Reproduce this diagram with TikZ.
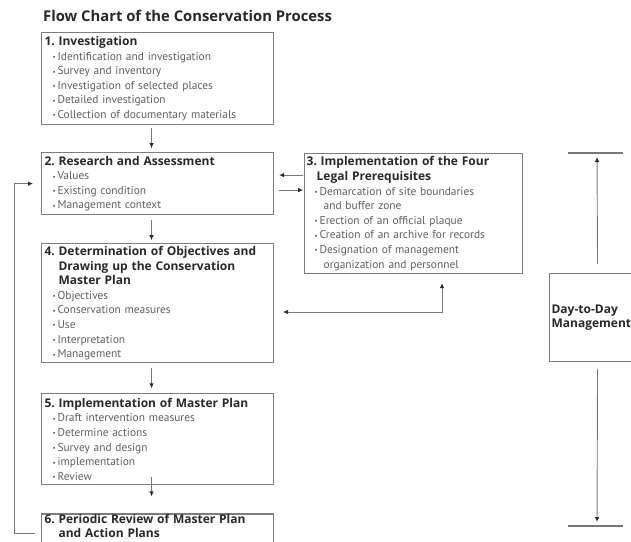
\documentclass[tikz,border=0pt]{standalone}
\usepackage{fontspec}
\setmainfont{PT Sans}
\newfontfamily\headfont{Open Sans}
\usetikzlibrary{arrows.meta,positioning}
\definecolor{framecol}{RGB}{125,125,125}
\definecolor{bodycol}{RGB}{95,95,95}
\definecolor{headcol}{RGB}{40,40,40}
\definecolor{linecol}{RGB}{120,120,120}
\newcommand{\hdr}[1]{{\color{headcol}\headfont\bfseries\fontsize{12}{14.6}\selectfont #1}}
\newcommand{\itm}{\hspace*{8pt}\makebox[5pt][l]{\raisebox{0.6pt}{\scriptsize\textbullet}}}
\newcommand{\ind}{\hspace*{14pt}}

\begin{document}
\begin{tikzpicture}[x=1pt, y=1pt,
    >={Latex[length=5pt,width=4.5pt,color=headcol]},
    box/.style={draw=framecol, line width=1.1pt, align=left, inner xsep=3pt,
                inner ysep=2pt, text width=226pt, text=bodycol,
                font=\fontsize{11.4}{14.6}\selectfont},
    title/.style={inner sep=0pt, text=headcol, font=\headfont\bfseries\fontsize{14.8}{16}\selectfont},
    ar/.style={->, line width=0.9pt, draw=linecol},
    tick/.style={line width=1.1pt, draw=linecol}
  ]
  \useasboundingbox (0,0) rectangle (631,-541);

  \node[box, anchor=north west, minimum height=92pt] (inv) at (41,-32)
    {\hdr{1.\ Investigation}\\
     \itm Identification and investigation\\
     \itm Survey and inventory\\
     \itm Investigation of selected places\\
     \itm Detailed investigation\\
     \itm Collection of documentary materials};
  \node[title, anchor=base west] (title) at ([xshift=2pt,yshift=11pt]inv.north west)
    {Flow Chart of the Conservation Process};

  \node[box, below=27pt of inv, minimum height=62pt] (res)
    {\hdr{2.\ Research and Assessment}\\
     \itm Values\\
     \itm Existing condition\\
     \itm Management context};
  \node[box, below=28pt of res, minimum height=119pt] (obj)
    {\hdr{4.\ Determination of Objectives and}\\
     \ind\hdr{Drawing up the Conservation}\\
     \ind\hdr{Master Plan}\\
     \itm Objectives\\
     \itm Conservation measures\\
     \itm Use\\
     \itm Interpretation\\
     \itm Management};
  \node[box, below=30pt of obj, minimum height=91pt] (impl)
    {\hdr{5.\ Implementation of Master Plan}\\
     \itm Draft intervention measures\\
     \itm Determine actions\\
     \itm Survey and design\\
     \itm implementation\\
     \itm Review};
  \node[box, below=28pt of impl, inner ysep=0pt] (rev)
    {\hdr{6.\ Periodic Review of Master Plan}\\
     \ind\hdr{and Action Plans}\\ \mbox{}};

  \node[box, anchor=north west, text width=214pt, inner xsep=2pt, minimum height=120pt] (legal)
    at ([xshift=30pt,yshift=-1pt]res.north east)
    {\hdr{3.\ Implementation of the Four}\\
     \hspace*{10pt}\hdr{Legal Prerequisites}\\
     \itm Demarcation of site boundaries\\
     \hspace*{17pt}and buffer zone\\
     \itm Erection of an official plaque\\
     \itm Creation of an archive for records\\
     \itm Designation of management\\
     \hspace*{17pt}organization and personnel};

  \node[box, anchor=north west, text width=92pt, inner xsep=2pt, inner ysep=31pt] (daily)
    at (549,-273) {\hdr{Day-to-Day}\\ \hdr{Management}};

  \coordinate (dtop) at (597,-153);
  \coordinate (dbot) at (597,-526);
  \coordinate (bend) at (442,-312);

  % main sequence
  \draw[ar, shorten <=3pt, shorten >=4pt] ([xshift=-6pt]inv.south) -- ([xshift=-6pt]res.north);
  \draw[ar, shorten <=5pt, shorten >=3pt] ([xshift=-6pt]res.south) -- ([xshift=-6pt]obj.north);
  \draw[ar, shorten <=5pt, shorten >=5pt] ([xshift=-6pt]obj.south) -- ([xshift=-6pt]impl.north);
  \draw[ar, shorten <=-8pt, shorten >=17pt] ([xshift=-6pt]impl.south) -- ([xshift=-6pt]rev.north);

  % legal prerequisites
  \draw[ar, shorten <=1pt, shorten >=5pt] ([yshift=-22pt]legal.north west) -- ([yshift=-22pt]legal.north west -| res.east);
  \draw[ar, shorten <=5pt, shorten >=1pt] ([yshift=-38pt]res.north east) -- ([yshift=-38pt]res.north east -| legal.west);
  \draw[ar, <->, shorten <=9pt, shorten >=9pt] (obj.east |- bend) -- (bend) -- (bend |- legal.south);

  % feedback loop
  \draw[ar, shorten <=6pt, shorten >=8pt] (rev.west) -- ++(-27,0) |- (res.west);

  % day-to-day management
  \draw[ar, shorten <=9pt, shorten >=4pt] (daily.north) -- (dtop);
  \draw[ar, shorten <=7pt, shorten >=4pt] (daily.south) -- (dbot);
  \draw[tick] ([xshift=-29pt]dtop) -- ([xshift=26pt]dtop);
  \draw[tick] ([xshift=-29pt]dbot) -- ([xshift=26pt]dbot);
\end{tikzpicture}
\end{document}
